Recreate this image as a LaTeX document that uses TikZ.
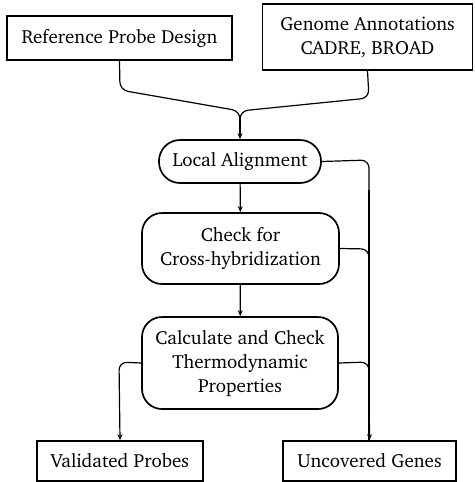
\documentclass[tikz,border=0pt]{standalone}
\usepackage[T1]{fontenc}
\usepackage{charter}
\usetikzlibrary{arrows.meta}
\begin{document}
\begin{tikzpicture}[x=1pt,y=-1pt,
  font=\fontsize{19}{24}\selectfont,
  sq/.style={draw,line width=1.7pt,rectangle,inner sep=0pt,align=center},
  rd/.style={draw,line width=1.7pt,rectangle,rounded corners=20pt,inner sep=0pt,align=center},
  conn/.style={line width=1.2pt,rounded corners=8pt},
  arr/.style={conn,-{Stealth[length=6pt,width=5pt]}}]
\useasboundingbox (0,0) rectangle (474,482);
\node[sq,minimum width=225pt,minimum height=44pt] (ref) at (119.5,38) {Reference Probe Design};
\node[sq,minimum width=210pt,minimum height=66pt] (gen) at (367.5,37) {Genome Annotations\\CADRE, BROAD};
\node[rd,rounded corners=21pt,minimum width=162pt,minimum height=43pt] (la) at (240,161.5) {Local Alignment};
\node[rd,minimum width=197pt,minimum height=71pt] (chk) at (240.5,248.5) {Check for\\Cross-hybridization};
\node[rd,minimum width=196pt,minimum height=92pt] (calc) at (240,363) {Calculate and Check\\Thermodynamic\\Properties};
\node[sq,minimum width=166pt,minimum height=40pt] (val) at (120,461) {Validated Probes};
\node[sq,minimum width=173pt,minimum height=40pt] (unc) at (369.5,461) {Uncovered Genes};
\coordinate (m) at (240,111);
\draw[conn] (ref.south) -- (120,90) -- (m) -- (240,125);
\draw[conn] (gen.south) -- (369,98) -- (m) -- (240,125);
\draw[arr] (240,115) -- (la.north);
\draw[arr] (la) -- (chk);
\draw[arr] (chk) -- (calc);
\draw[conn] (la.east) -- (369,160) -- (369,200);
\draw[conn] (chk.east) -- (369,249) -- (369,300);
\draw[arr] (calc.east) -- (369,362) -- (unc.north);
\draw[arr] (calc.west) -- (119,362) -- (val.north);
\draw[line width=1.2pt] (369,190) -- (369,440);
\end{tikzpicture}
\end{document}
